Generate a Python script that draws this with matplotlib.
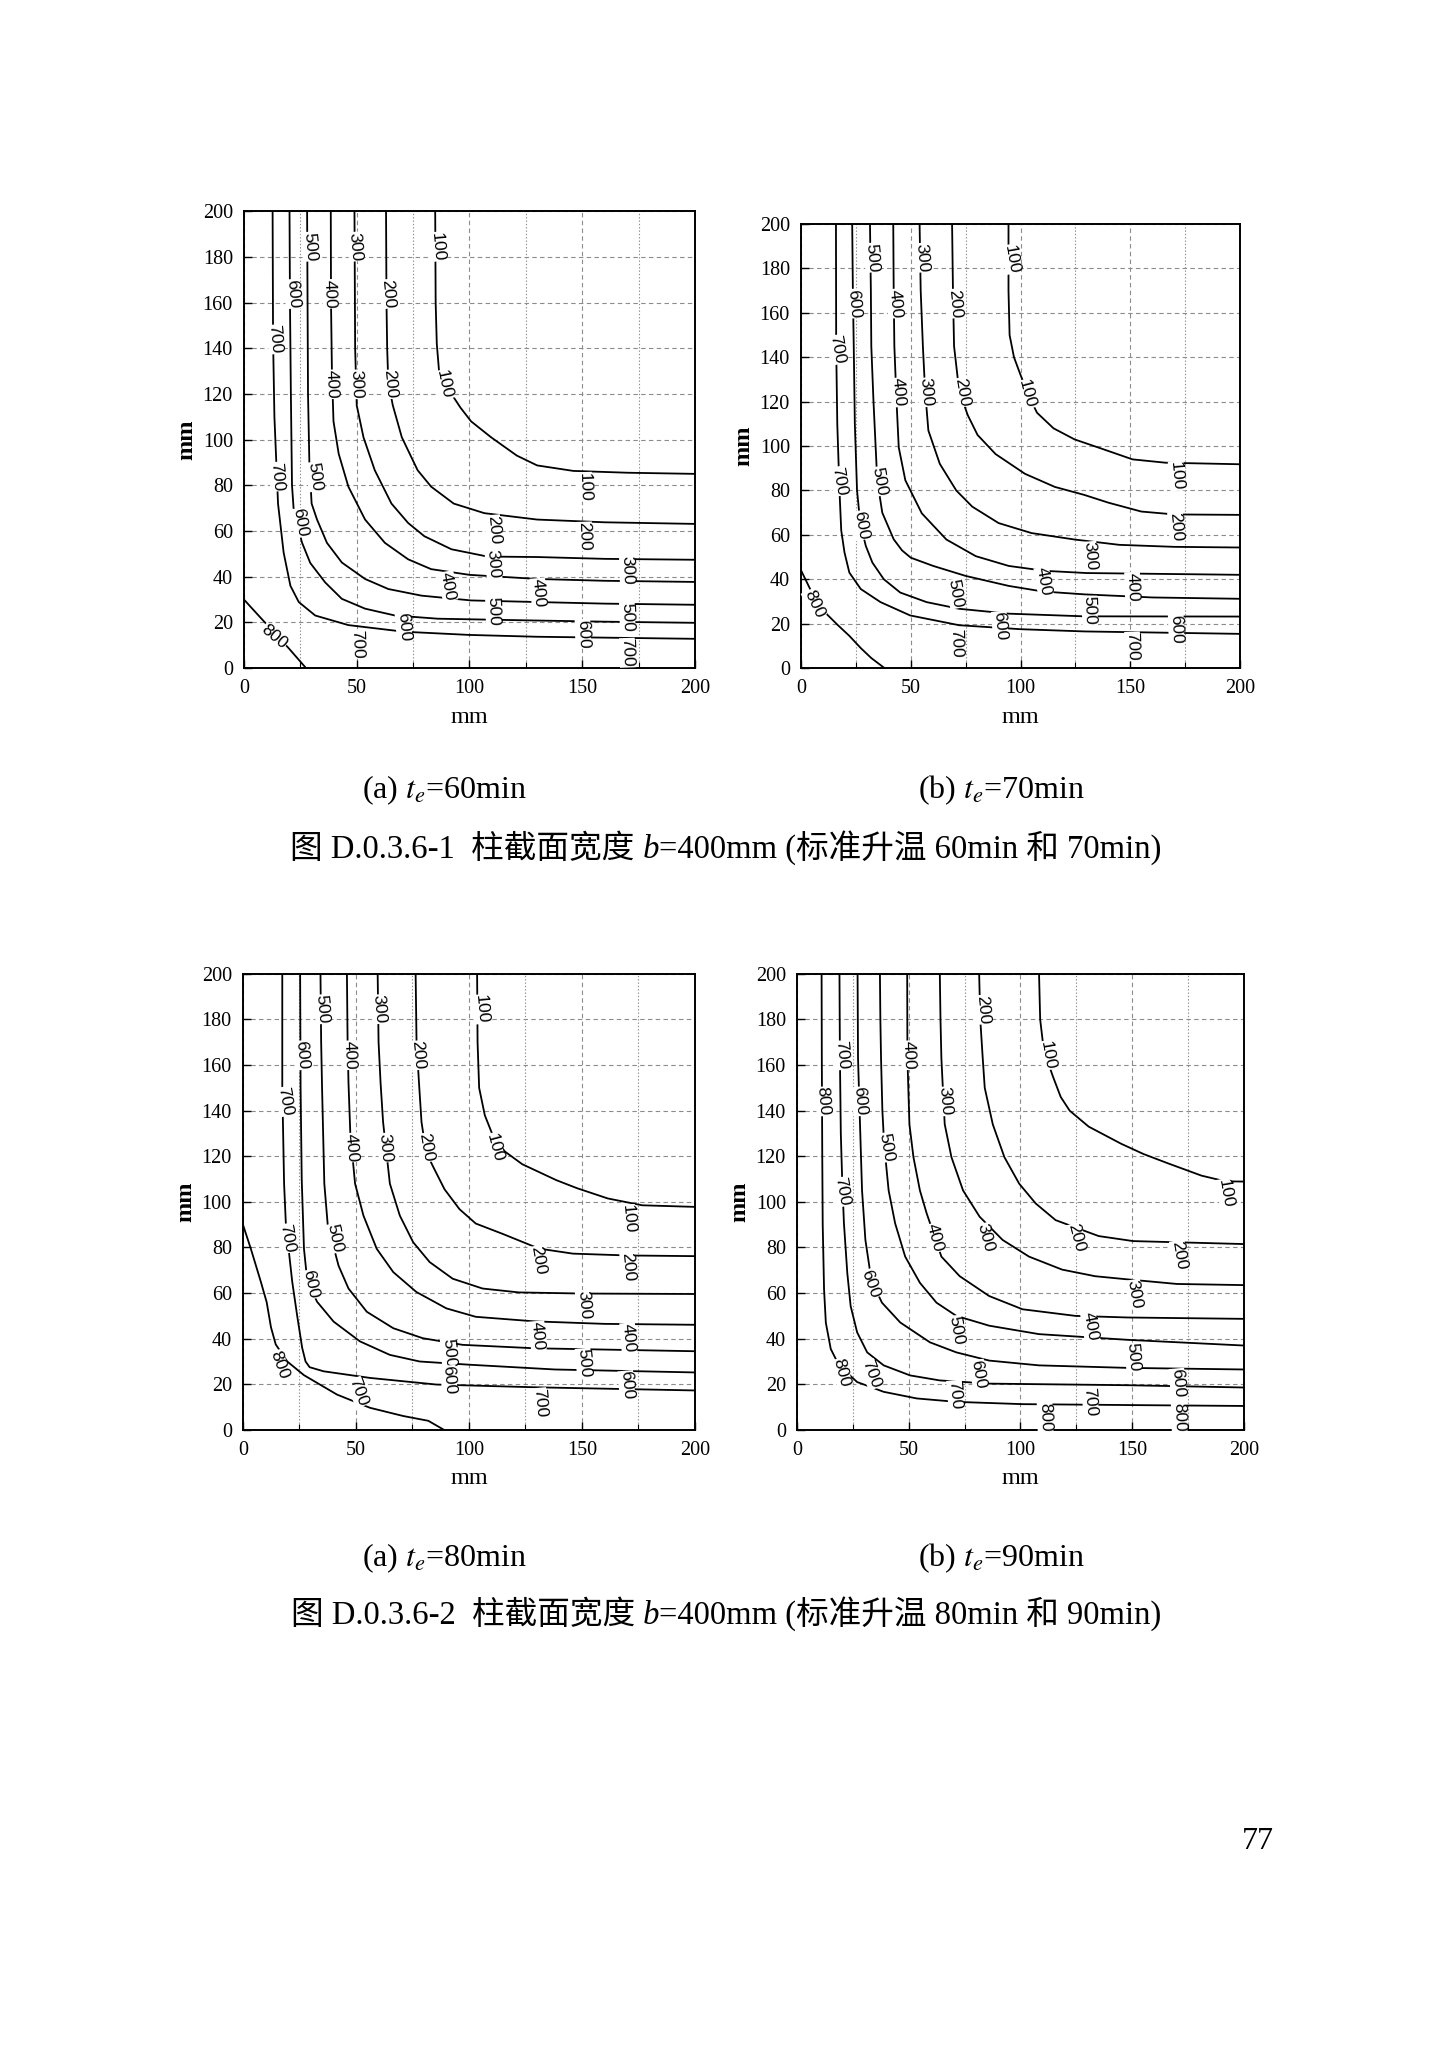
import matplotlib
matplotlib.use('Agg')
import matplotlib.pyplot as plt
from matplotlib.offsetbox import TextArea, HPacker, AnchoredOffsetbox

# -----------------------------------------------------------------------------
# data: isotherms (x, y in mm), per fire duration

iso_60 = {
    100: [(84.8, 200), (85, 160), (85.5, 142), (86.5, 130), (89, 124), (92, 120), (96, 114),
          (100.7, 108), (109.6, 101), (121, 93), (130, 88.7), (146, 86.3), (170, 85.5), (200, 85)],
    200: [(63, 200), (63.2, 160), (63.5, 140), (64, 125), (66, 115), (70, 101), (77, 86.6),
          (83, 79.4), (93, 72), (106.6, 67.8), (130, 65), (160, 63.8), (200, 63.1)],
    300: [(49, 200), (49.2, 160), (49.3, 140), (50, 115), (53, 101), (58, 86.6), (65.4, 72),
          (72.8, 63.5), (80, 57.7), (92, 52), (108, 48.8), (130, 48.6), (160, 47.8), (200, 47.4)],
    400: [(38.5, 200), (38.6, 160), (39, 130), (39.7, 108), (42, 93.8), (46.3, 79.4), (53.7, 65),
          (62.5, 54.8), (72.8, 47.6), (83, 43.3), (100, 40.8), (130, 39), (160, 38.2), (200, 37.7)],
    500: [(28, 200), (28.2, 160), (28.4, 120), (29, 90), (30, 72), (32.4, 65), (36.8, 54.8),
          (43.4, 46.2), (53.7, 39), (64, 34.6), (78.7, 31.7), (100.7, 29.6), (130, 28.9),
          (160, 28.2), (200, 27.7)],
    600: [(20.2, 200), (20.4, 160), (20.8, 120), (21.3, 80), (22, 70), (25.7, 55), (29.4, 46),
          (36, 37.5), (43.4, 30.3), (53.7, 26), (67, 23), (86, 21.6), (130, 20.8), (160, 20.3),
          (200, 19.8)],
    700: [(12.7, 200), (12.9, 144), (13.5, 110), (15.1, 72), (17.6, 50.5), (20.6, 36), (24.3, 28.9),
          (31.6, 23), (46.3, 18.8), (71, 15.9), (100, 14.5), (130, 13.7), (200, 12.8)],
    800: [(0, 30), (6, 23.5), (13, 16), (20, 8.5), (27.5, 0)],
}

iso_70 = {
    100: [(94.5, 200), (94.5, 170), (95, 150), (97, 140), (100, 132), (104, 122), (107.5, 115),
          (115, 108), (124.6, 103), (137, 98.8), (151, 94), (166, 92.5), (200, 91.8)],
    200: [(68.8, 200), (69.2, 170), (69.7, 145), (72, 125), (75.9, 114), (80.4, 105), (88.6, 96.4),
          (102, 87.5), (115.6, 81.6), (129, 78), (140, 74.5), (155, 70.5), (170, 69.2), (200, 69)],
    300: [(54, 200), (54.5, 170), (55.5, 145), (56.5, 125), (58, 107), (63.2, 92), (70.7, 80),
          (78, 72.7), (90, 65.3), (105, 60.8), (124.6, 57.9), (145, 55.5), (170, 54.6), (200, 54.3)],
    400: [(42, 200), (42.2, 170), (42.5, 145), (43.5, 120), (44.5, 99.4), (47.5, 84.6), (55, 69.7),
          (66.2, 57.9), (79.6, 50.4), (94.6, 46), (111, 43.8), (130, 42.8), (200, 42)],
    500: [(31.4, 200), (31.8, 170), (32, 145), (33, 120), (34.7, 84.6), (37, 70), (42.2, 58),
          (46, 53), (50, 49.7), (60.2, 46), (75, 41.5), (94.6, 37), (110, 34.5), (129, 33.2),
          (160, 31.8), (200, 31.2)],
    600: [(23.3, 200), (23.6, 170), (24, 145), (24.5, 110), (25.5, 80), (27, 65), (29.5, 55),
          (32.5, 47.5), (37.7, 40), (45.2, 34), (57.2, 29.7), (72, 26.7), (94.6, 24.5), (129, 23.3),
          (200, 23.2)],
    700: [(15.9, 200), (16, 145), (16.5, 110), (17.5, 80), (18.3, 62), (19.8, 52), (22, 43),
          (27.2, 35.6), (36.2, 29.7), (49.7, 23.7), (72, 19.3), (100, 17.5), (129, 16.5), (200, 15.4)],
    800: [(0, 44), (6.3, 31.2), (12, 24), (16.8, 19.3), (22, 14.5), (27.2, 9), (32, 4.5), (38, 0)],
}

iso_80 = {
    100: [(103.6, 200), (103.8, 170), (104.5, 150), (107, 138), (111, 128), (116, 122),
          (123.6, 116.5), (138.7, 109.5), (147.8, 106), (161.4, 101.5), (176.6, 98.5), (200, 97.8)],
    200: [(76.4, 200), (76.8, 170), (77.9, 152), (79, 135), (81, 122), (84, 115.7), (89.2, 105.5),
          (95.8, 96.8), (103, 90.5), (114.8, 86), (131, 79.5), (146, 77.3), (170, 76.5), (200, 76.2)],
    300: [(59.6, 200), (60, 170), (60.9, 152), (62, 135), (65, 108), (69.4, 94), (75.3, 82.3),
          (82.6, 73.6), (92.8, 66.3), (106, 62), (122, 60.3), (150, 59.8), (200, 59.6)],
    400: [(46, 200), (46.3, 170), (46.7, 152), (47.5, 130), (49.6, 108), (53.3, 94), (59.2, 79.4),
          (66.5, 69.2), (76.7, 60.5), (90, 53.3), (103, 49.6), (129, 47.6), (160, 46.5), (200, 46.1)],
    500: [(34.3, 200), (34.6, 170), (35, 150), (36, 108), (37.5, 90), (42.3, 72), (46.7, 62),
          (54.8, 51.8), (66.5, 44.6), (79.6, 40.2), (97.2, 37.3), (129, 35.8), (200, 34.5)],
    600: [(25.3, 200), (25.5, 150), (26, 110), (27, 79.4), (28.5, 65), (32.8, 56.2), (40.1, 47.5),
          (51.8, 38.8), (65, 32.9), (78.2, 30), (100, 28.6), (138, 26.5), (200, 25.2)],
    700: [(17.4, 200), (17.4, 150), (18.2, 108), (19, 90), (21.8, 65), (24, 50), (26.2, 36),
          (27.7, 30), (29.5, 27.5), (35.7, 25.7), (56.2, 22.8), (85.5, 19.9), (129, 18.7), (200, 17.3)],
    800: [(0, 90), (3.5, 79.4), (7.9, 65), (10.5, 56), (12.4, 45), (14.5, 37.5), (19.6, 30),
          (27, 24), (41.6, 15.5), (56.2, 9.7), (70.9, 6.1), (82, 4), (89, 0)],
}

iso_90 = {
    100: [(108.3, 200), (108.8, 180), (110, 170), (112, 162), (114.5, 155), (118, 146), (122, 140),
          (130.5, 133), (145, 125.5), (155, 121), (165.7, 117), (181, 111.5), (191.7, 109), (200, 108.9)],
    200: [(81.5, 200), (82, 180), (83.1, 163), (84, 150), (87.6, 134), (92.8, 119.6), (99.4, 108),
          (106.8, 99.3), (115.7, 92), (127.5, 87.7), (135, 85), (150.4, 82.8), (200, 81.5)],
    300: [(63.9, 200), (64.2, 180), (64.6, 163), (65.5, 145), (66.1, 134), (69.1, 119.6), (74.3, 105),
          (81.7, 93.5), (92, 83.3), (103.8, 76), (118.6, 70.3), (133.4, 67.4), (148, 66), (170, 64),
          (200, 63.5)],
    400: [(49.3, 200), (49.4, 163), (50.3, 134), (52.1, 119.6), (55, 105), (58, 95), (61.5, 85),
          (64.6, 76), (72.8, 67.4), (86, 58.7), (100.9, 52.9), (124.6, 50), (148, 49.3), (200, 48.7)],
    500: [(37.1, 200), (37.3, 180), (37.6, 163), (38.2, 140), (39, 125), (41, 105), (43.9, 90.6),
          (48.4, 76), (55, 64.5), (62.4, 55.8), (71.3, 50), (86, 45.7), (108.3, 42), (148, 39.5),
          (200, 37)],
    600: [(27.1, 200), (27.3, 163), (28, 140), (29.1, 105), (30.6, 83.3), (32.8, 68.8), (35, 62),
          (38, 55.8), (46.2, 47.1), (59.5, 38.4), (71.3, 34), (86, 30.4), (108.3, 28.3), (148, 27.2),
          (200, 26.5)],
    700: [(19, 200), (19.2, 163), (19.6, 130), (20.2, 110), (21, 90.6), (22.5, 68.8), (24, 54.3),
          (26.9, 42.8), (31.4, 34), (38.8, 28.3), (50.6, 23.9), (63.9, 21.7), (86, 20.3), (148, 19.6),
          (200, 18.6)],
    800: [(11, 200), (11.1, 163), (11.3, 120), (11.5, 90), (12.1, 61.6), (12.9, 47), (15.1, 35.5),
          (18.8, 28.3), (26.9, 21), (38.8, 16.7), (53.6, 13.8), (71.3, 12.3), (100.9, 11.3),
          (148, 10.9), (200, 10.5)],
}

# contour labels: (level, x, y, rotation)
lab_60 = [(500, 29.1, 184.5, -85), (300, 49.5, 184.5, -85), (100, 85.9, 184.5, -85),
          (600, 21.5, 163.8, -85), (400, 38.2, 163.8, -88), (200, 63.9, 163.8, -85),
          (700, 13.9, 143.9, -85), (400, 38.9, 124.2, -88), (300, 50, 124.2, -88),
          (200, 64.7, 124.2, -85), (100, 88.9, 124.2, -78), (700, 14.7, 83.8, -85),
          (500, 31.4, 83.8, -82), (600, 24.8, 63.6, -80), (100, 151, 79.3, -88),
          (200, 110.6, 60.6, -85), (200, 151, 57.6, -88), (300, 110.6, 45.6, -85),
          (300, 170, 42.6, -88), (400, 90.5, 35.9, -80), (400, 130.6, 32.9, -85),
          (500, 110.6, 24.7, -88), (500, 170, 22.4, -88), (600, 70.8, 18, -85),
          (600, 150.3, 15, -88), (700, 50.3, 10.5, -88), (700, 170, 6.7, -88), (800, 13.2, 13.5, -40)]

lab_70 = [(500, 32.4, 184.9, -85), (300, 55.3, 184.9, -85), (100, 95.7, 184.2, -80),
          (600, 24.1, 164.2, -85), (400, 42.8, 164.2, -85), (200, 70, 164.2, -85),
          (700, 16.3, 143.4, -80), (400, 44.4, 124.2, -85), (300, 56.8, 124.2, -85),
          (200, 73.2, 124.2, -80), (100, 102.7, 123.4, -75), (700, 17.4, 84.2, -80),
          (500, 35.8, 84.2, -80), (600, 27.2, 64.3, -80), (100, 171.2, 86.5, -85),
          (200, 170.9, 63.5, -85), (300, 131.5, 50.4, -85), (400, 110.5, 38.9, -80),
          (400, 151, 36.6, -88), (500, 70.4, 33.5, -80), (500, 131.5, 25.8, -88),
          (600, 90.6, 18.9, -85), (600, 170.9, 17.4, -88), (700, 70.8, 11.2, -88),
          (700, 151, 9.7, -88), (800, 5.9, 28.9, -65)]

lab_80 = [(500, 35.1, 184.5, -85), (300, 60.1, 184.5, -85), (100, 105.4, 184.5, -85),
          (600, 26, 164.3, -85), (400, 47.2, 164.3, -88), (200, 77.5, 164.3, -85),
          (700, 18.5, 144, -80), (400, 48, 123.8, -85), (300, 63.1, 123.8, -85),
          (200, 80.9, 123.8, -80), (100, 111.2, 123.8, -75), (700, 19.5, 84, -80),
          (500, 40.4, 84, -78), (600, 29.8, 63.8, -78), (100, 170.5, 92.3, -85),
          (200, 130.4, 74.3, -80), (200, 170.5, 71.3, -85), (300, 150.8, 54.8, -85),
          (400, 130.4, 41.3, -85), (400, 170.5, 40.5, -85), (500, 91.1, 33.8, -85),
          (600, 91.1, 21.8, -85), (500, 150.8, 29.3, -85), (600, 169.7, 19.5, -85),
          (700, 51, 16.5, -70), (700, 131.2, 12, -85), (800, 16.2, 28.5, -70)]

lab_90 = [(200, 83, 184.3, -85), (700, 19.9, 164.3, -85), (400, 50.1, 164.3, -88),
          (100, 112.1, 164.3, -80), (800, 11.8, 144.1, -85), (600, 28.2, 144.1, -85),
          (300, 66.2, 144.1, -85), (500, 39.8, 123.9, -80), (700, 20.2, 104.4, -80),
          (100, 191.7, 103.7, -80), (400, 61.6, 84.2, -75), (300, 84.2, 84.2, -75),
          (200, 125.1, 84.2, -75), (200, 171, 76.7, -80), (600, 32.9, 64, -70),
          (300, 151.1, 59.5, -80), (500, 71.1, 43.7, -80), (400, 131.2, 45.2, -80),
          (500, 150.4, 31.8, -85), (600, 81.2, 24.3, -80), (600, 170.3, 20.5, -85),
          (800, 19.9, 25, -75), (700, 33.2, 24.3, -70), (700, 70.8, 15.3, -85),
          (700, 131.2, 12.3, -85), (800, 111, 5.5, -88), (800, 171, 5.5, -88)]

sub_titles = [r'(a) $t_e$=60min', r'(b) $t_e$=70min', r'(a) $t_e$=80min', r'(b) $t_e$=90min']
fig_nums = ['D.0.3.6-1', 'D.0.3.6-2']
fig_times = [('60min', '70min'), ('80min', '90min')]
page_num = '77'

# -----------------------------------------------------------------------------
# plot

plt.rcParams['mathtext.fontset'] = 'stix'
serif = 'Liberation Serif'
serif_cjk = ['Liberation Serif', 'Noto Sans CJK SC']

fig = plt.figure(figsize=(14.47, 20.48), dpi=100)

panels = [
    (iso_60, lab_60, [0.1686, 0.6738, 0.3117, 0.2231]),
    (iso_70, lab_70, [0.5536, 0.6738, 0.3034, 0.2168]),
    (iso_80, lab_80, [0.1679, 0.3018, 0.3124, 0.2227]),
    (iso_90, lab_90, [0.5508, 0.3018, 0.3089, 0.2227]),
]

for iso, labs, pos in panels:
    ax = fig.add_axes(pos)
    for level, pts in iso.items():
        xs = [p[0] for p in pts]
        ys = [p[1] for p in pts]
        ax.plot(xs, ys, color='black', lw=1.3, zorder=3)
    for level, x, y, rot in labs:
        ax.text(x, y, str(level), rotation=rot, rotation_mode='anchor', ha='center', va='center',
                fontsize=12.5, family='Liberation Sans', zorder=4,
                bbox=dict(fc='white', ec='none', pad=0.2))

    ax.set_xlim(0, 200)
    ax.set_ylim(0, 200)
    ax.set_xticks(range(0, 201, 50))
    ax.set_xticks(range(25, 200, 50), minor=True)
    ax.set_yticks(range(0, 201, 20))
    ax.grid(which='major', color='#8c8c8c', ls=(0, (4, 3)), lw=0.8)
    ax.grid(which='minor', axis='x', color='#8c8c8c', ls=(0, (1.2, 1.8)), lw=0.8)
    ax.tick_params(which='major', direction='in', length=6, width=1.0, pad=8, labelsize=14.5)
    ax.tick_params(which='minor', direction='in', length=4, width=0.8)
    for lab in ax.get_xticklabels() + ax.get_yticklabels():
        lab.set_family(serif)
    for sp in ax.spines.values():
        sp.set_linewidth(1.4)
    ax.set_xlabel('mm', fontsize=17.5, family=serif, labelpad=6)
    ax.set_ylabel('mm', fontsize=17.5, family=serif, fontweight='bold', labelpad=4)

# sub captions
sub_pos = [(0.3075, 0.6143), (0.6918, 0.6143), (0.3075, 0.2393), (0.6918, 0.2393)]
for txt, (x, y) in zip(sub_titles, sub_pos):
    fig.text(x, y, txt, ha='center', va='center', fontsize=23, family=serif)


def caption(y, num, t1, t2):
    parts = [
        TextArea('图 ' + num + '  柱截面宽度', textprops=dict(family=serif_cjk, size=23.5)),
        TextArea(' b', textprops=dict(family=serif, style='italic', size=23.5)),
        TextArea('=400mm (标准升温 ' + t1 + ' 和 ' + t2 + ')',
                 textprops=dict(family=serif_cjk, size=23.5)),
    ]
    box = HPacker(children=parts, align='baseline', pad=0, sep=0)
    anch = AnchoredOffsetbox(loc='center', child=box, pad=0, borderpad=0, frameon=False,
                             bbox_to_anchor=(0.5017, y), bbox_transform=fig.transFigure)
    fig.add_artist(anch)


caption(0.5859, fig_nums[0], *fig_times[0])
caption(0.2119, fig_nums[1], *fig_times[1])

fig.text(0.8694, 0.1006, page_num, ha='center', va='center', fontsize=23, family=serif)

fig.savefig('out.png', dpi=100)
